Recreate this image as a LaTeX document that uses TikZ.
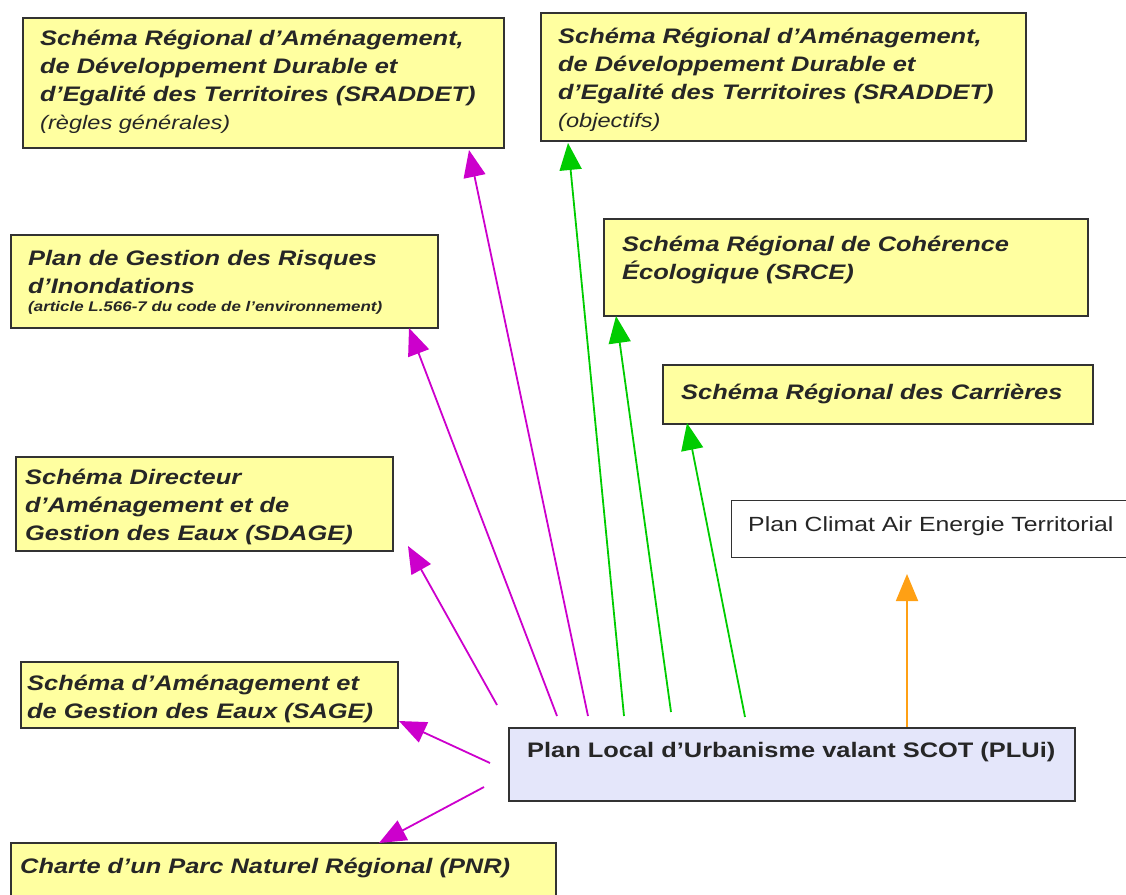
\documentclass[tikz,border=0pt]{standalone}
\usepackage{fontspec}
\setmainfont{Liberation Sans}[FakeStretch=1.21]
\usetikzlibrary{arrows.meta,calc}
\definecolor{boxyellow}{RGB}{255,255,160}
\definecolor{boxlav}{RGB}{228,230,250}
\definecolor{mag}{RGB}{204,0,204}
\definecolor{grn}{RGB}{0,204,0}
\definecolor{org}{RGB}{255,160,20}
\definecolor{bord}{RGB}{50,50,50}
\tikzset{
  ybox/.style={draw=bord, line width=1.6pt, fill=boxyellow, inner sep=0pt, anchor=north west},
  wbox/.style={draw=bord, line width=1.2pt, fill=white, inner sep=0pt, anchor=north west},
  lbox/.style={draw=bord, line width=1.6pt, fill=boxlav, inner sep=0pt, anchor=north west},
  ytxt/.style={anchor=base west, inner sep=0pt, align=left, text=black!85,
     font=\fontsize{21}{27.7}\selectfont\bfseries\itshape},
  ptxt/.style={anchor=base west, inner sep=0pt, align=left, text=black!85,
     font=\fontsize{21}{27.7}\selectfont\bfseries},
  wtxt/.style={anchor=base west, inner sep=0pt, align=left, text=black!85,
     font=\fontsize{20.5}{24}\selectfont},
  arr/.style={line width=1.8pt, -{Triangle[length=27pt,width=22pt]}},
}
\newcommand\subl[1]{{\fontsize{19.5}{24}\selectfont\mdseries\itshape #1}}
\begin{document}
\begin{tikzpicture}[x=1pt,y=-1pt]
\useasboundingbox (0,0) rectangle (1126,894);
% boxes
\node[ybox, minimum width=481pt, minimum height=130pt] (sr1) at (22,17) {};
\node[ytxt] (sr1t) at (40,129) {Schéma Régional d’Aménagement,\\ de Développement Durable et\\ d’Egalité des Territoires (SRADDET)\\ \subl{(règles générales)}};
\node[ybox, minimum width=485pt, minimum height=128pt] (sr2) at (540,12) {};
\node[ytxt] (sr2t) at (558,127) {Schéma Régional d’Aménagement,\\ de Développement Durable et\\ d’Egalité des Territoires (SRADDET)\\ \subl{(objectifs)}};
\node[ybox, minimum width=427pt, minimum height=93pt] (pgri) at (10,234) {};
\node[ytxt] (pgrit) at (28,311) {Plan de Gestion des Risques\\ d’Inondations\\[-10pt] {\fontsize{14}{16}\selectfont (article L.566-7 du code de l’environnement)}};
\node[ybox, minimum width=484pt, minimum height=97pt] (srce) at (603,218) {};
\node[ytxt] (srcet) at (622,279) {Schéma Régional de Cohérence\\ Écologique (SRCE)};
\node[ybox, minimum width=430pt, minimum height=59pt] (carr) at (662,364) {};
\node[ytxt] (carrt) at (681,399) {Schéma Régional des Carrières};
\node[wbox, minimum width=400pt, minimum height=57pt] (pcaet) at (731,500) {};
\node[wtxt] (pcaett) at (748,531) {Plan Climat Air Energie Territorial};
\node[ybox, minimum width=377pt, minimum height=94pt] (sdage) at (15,456) {};
\node[ytxt] (sdaget) at (25,540) {Schéma Directeur\\ d’Aménagement et de\\ Gestion des Eaux (SDAGE)};
\node[ybox, minimum width=377pt, minimum height=66pt] (sage) at (20,661) {};
\node[ytxt] (saget) at (27,718) {Schéma d’Aménagement et\\ de Gestion des Eaux (SAGE)};
\node[lbox, minimum width=566pt, minimum height=73pt] (plui) at (508,727) {};
\node[ptxt] (pluit) at (527,757) {Plan Local d’Urbanisme valant SCOT (PLUi)};
\node[ybox, minimum width=545pt, minimum height=60pt] (pnr) at (10,842) {};
\node[ytxt] (pnrt) at (20,873) {Charte d’un Parc Naturel Régional (PNR)};
% arrow end points
\coordinate (s1) at (497,705); \coordinate (t1) at (408,546);
\coordinate (s2) at (557,716); \coordinate (t2) at (409,328);
\coordinate (s3) at (588,716); \coordinate (t3) at (469,150);
\coordinate (s4) at (624,716); \coordinate (t4) at (568,143);
\coordinate (s5) at (671,712); \coordinate (t5) at (616,316);
\coordinate (s6) at (745,717); \coordinate (t6) at (687,423);
\coordinate (s7) at (907,727); \coordinate (t7) at (907,574);
\coordinate (s8) at (490,763); \coordinate (t8) at (399,721);
\coordinate (s9) at (484,787); \coordinate (t9) at (379,843);
% arrows
\draw[arr, mag] (s1) -- (t1);
\draw[arr, mag] (s2) -- (t2);
\draw[arr, mag] (s3) -- (t3);
\draw[arr, grn] (s4) -- (t4);
\draw[arr, grn] (s5) -- (t5);
\draw[arr, grn] (s6) -- (t6);
\draw[arr, org] (s7) -- (t7);
\draw[arr, mag] (s8) -- (t8);
\draw[arr, mag] (s9) -- (t9);
\end{tikzpicture}
\end{document}
